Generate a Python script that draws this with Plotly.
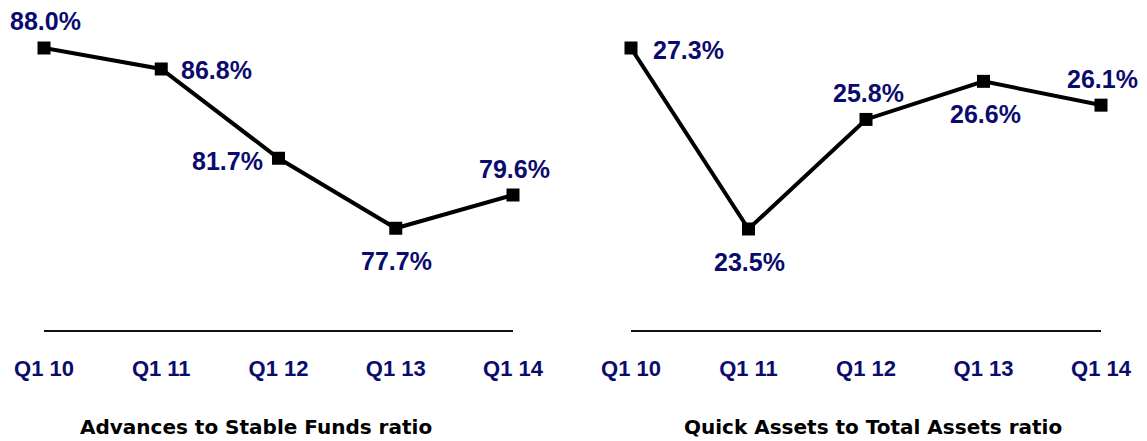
import plotly.graph_objects as go

categories = ["Q1 10", "Q1 11", "Q1 12", "Q1 13", "Q1 14"]
asf_values = [88.0, 86.8, 81.7, 77.7, 79.6]
qa_values = [27.3, 23.5, 25.8, 26.6, 26.1]
titles = ["Advances to Stable Funds ratio", "Quick Assets to Total Assets ratio"]

# label offsets (px) relative to each point
asf_offsets = [(1, 27), (55, -1), (-51, -3), (1, -33), (1, 26)]
qa_offsets = [(57, -2), (1, -33), (2, 26), (2, -33), (1, 26)]

NAVY = "#0b0b6e"
W, H = 1147, 441

fig = go.Figure()
for vals, xa, ya in [(asf_values, "x", "y"), (qa_values, "x2", "y2")]:
    fig.add_trace(go.Scatter(
        x=categories, y=vals, mode="lines+markers",
        line=dict(color="black", width=4),
        marker=dict(symbol="square", size=13, color="black"),
        xaxis=xa, yaxis=ya, cliponaxis=False, showlegend=False,
        hoverinfo="skip"))

ann = []
for vals, offs, xr, yr in [(asf_values, asf_offsets, "x", "y"), (qa_values, qa_offsets, "x2", "y2")]:
    for c, v, (dx, dy) in zip(categories, vals, offs):
        ann.append(dict(x=c, y=v, xref=xr, yref=yr, text=f"<b>{v:.1f}%</b>",
                        showarrow=False, xshift=dx, yshift=dy,
                        font=dict(family="Liberation Sans, Arial", size=25, color=NAVY)))

for cx, t in zip([256, 873], titles):
    ann.append(dict(x=cx / W, y=1 - 427 / H, xref="paper", yref="paper", text=f"<b>{t}</b>",
                    showarrow=False, xanchor="center", yanchor="middle",
                    font=dict(family="DejaVu Sans", size=20, color="black")))

xcommon = dict(type="category", range=[0, 4], showline=True, linecolor="#111111",
               linewidth=1.5, showgrid=False, zeroline=False, ticks="",
               ticklabelstandoff=18, automargin=False,
               tickfont=dict(family="Liberation Sans, Arial", size=22, color=NAVY, weight="bold"))
ycommon = dict(showgrid=False, zeroline=False, showticklabels=False, showline=False,
               automargin=False, domain=[1 - 330 / H, 1 - 15 / H])

fig.update_layout(
    width=W, height=H, margin=dict(l=0, r=0, t=0, b=0, pad=0, autoexpand=False),
    paper_bgcolor="white", plot_bgcolor="white",
    xaxis=dict(domain=[44 / W, 513 / W], anchor="y", **xcommon),
    xaxis2=dict(domain=[631 / W, 1101 / W], anchor="y2", **xcommon),
    yaxis=dict(range=[71.886, 89.886], anchor="x", **ycommon),
    yaxis2=dict(range=[21.379, 27.993], anchor="x2", **ycommon),
    annotations=ann,
)

fig.write_html("out.html", config={"displayModeBar": False},
               post_script="document.body.style.margin='0';document.body.style.overflow='hidden';")
